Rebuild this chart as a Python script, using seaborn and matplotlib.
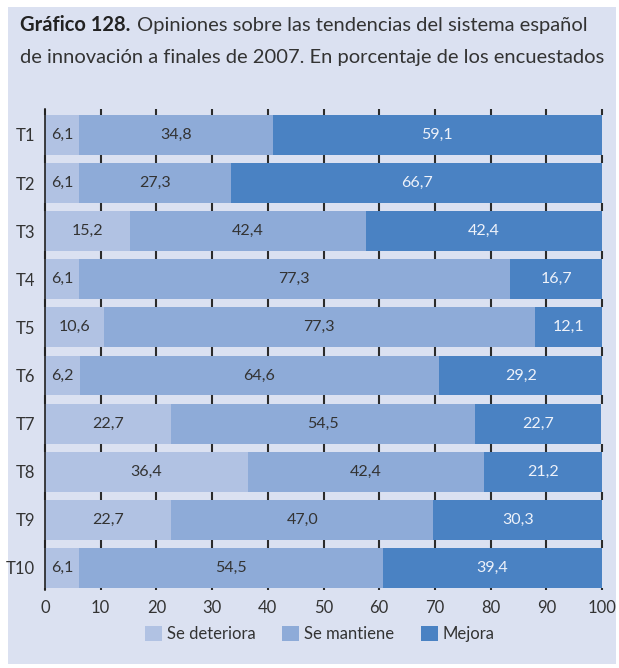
import numpy as np
import pandas as pd
import matplotlib.pyplot as plt
import seaborn as sns
from matplotlib.patches import Rectangle, Patch

categorias = ['T1', 'T2', 'T3', 'T4', 'T5', 'T6', 'T7', 'T8', 'T9', 'T10']
se_deteriora = [6.1, 6.1, 15.2, 6.1, 10.6, 6.2, 22.7, 36.4, 22.7, 6.1]
se_mantiene = [34.8, 27.3, 42.4, 77.3, 77.3, 64.6, 54.5, 42.4, 47.0, 54.5]
mejora = [59.1, 66.7, 42.4, 16.7, 12.1, 29.2, 22.7, 21.2, 30.3, 39.4]
series = ['Se deteriora', 'Se mantiene', 'Mejora']
colores = ['#b1c2e3', '#8eabd8', '#4a82c3']
color_texto = ['#333333', '#333333', '#eef2fa']
ancho = 0.83

df = pd.DataFrame({'cat': categorias, 'Se deteriora': se_deteriora,
                   'Se mantiene': se_mantiene, 'Mejora': mejora})
acumulado = df[series].cumsum(axis=1)

plt.rcParams['font.family'] = ['Lato', 'DejaVu Sans']
fig = plt.figure(figsize=(6.19, 6.68), dpi=100)
fig.patch.set_facecolor('white')
ax = fig.add_axes([45 / 619, 1 - 590 / 668, 557 / 619, 481 / 668])
ax.set_facecolor('#dbe1f1')
# marco lavanda del gráfico completo
fig.add_artist(Rectangle((8 / 619, 1 - 664 / 668), 608 / 619, 657 / 668,
                         transform=fig.transFigure, facecolor='#dbe1f1',
                         edgecolor='none', zorder=-10))

# barras apiladas: se dibuja primero el total y encima los acumulados parciales
for serie, col in zip(series[::-1], colores[::-1]):
    sns.barplot(x=acumulado[serie], y=df['cat'], orient='h', color=col,
                width=ancho, ax=ax, zorder=3, saturation=1, linewidth=0)

for i, fila in df.iterrows():
    inicio = 0
    for serie, tc in zip(series, color_texto):
        v = fila[serie]
        ax.text(inicio + v / 2, i, f"{v:.1f}".replace('.', ','), ha='center',
                va='center', fontsize=11.5, color=tc, zorder=4)
        inicio += v

ax.set_xlim(0, 100)
ax.set_ylim(9.46, -0.54)
ax.set_xticks(range(0, 101, 10))

# marcas verticales en los huecos entre barras
y0, y1 = ax.get_ylim()
for j in range(-1, len(categorias)):
    arriba = max(j + ancho / 2, y1)
    abajo = min(j + 1 - ancho / 2, y0)
    ax.vlines(ax.get_xticks(), arriba, abajo, colors='#2b2b2b', linewidths=1.5,
              zorder=10, clip_on=False)

for lado in ['top', 'right', 'bottom']:
    ax.spines[lado].set_visible(False)
ax.spines['left'].set_color('#222222')
ax.spines['left'].set_linewidth(1.2)
ax.spines['left'].set_zorder(11)
ax.tick_params(axis='both', length=0, labelsize=12, colors='#333333', pad=7)
ax.set_xlabel('')
ax.set_ylabel('')

manijas = [Patch(facecolor=c, edgecolor='none') for c in colores]
fig.legend(manijas, series, loc='center', bbox_to_anchor=(320 / 619, 1 - 634 / 668),
           ncol=3, frameon=False, fontsize=12, handlelength=1.0, handleheight=1.0,
           handletextpad=0.3, columnspacing=1.6, labelcolor='#333333')

t1 = fig.text(20 / 619, 1 - 25 / 668, 'Gráfico 128.', fontsize=14.5, fontweight='bold',
              color='#222222', va='center', ha='left')
fig.canvas.draw()
bb = t1.get_window_extent()
fig.text((bb.x1 + 7) / 619, 1 - 25 / 668,
         'Opiniones sobre las tendencias del sistema español', fontsize=14.5,
         color='#333333', va='center', ha='left')
fig.text(20 / 619, 1 - 58 / 668,
         'de innovación a finales de 2007. En porcentaje de los encuestados',
         fontsize=14.5, color='#333333', va='center', ha='left')

fig.savefig('out.png', dpi=100, facecolor='white')
